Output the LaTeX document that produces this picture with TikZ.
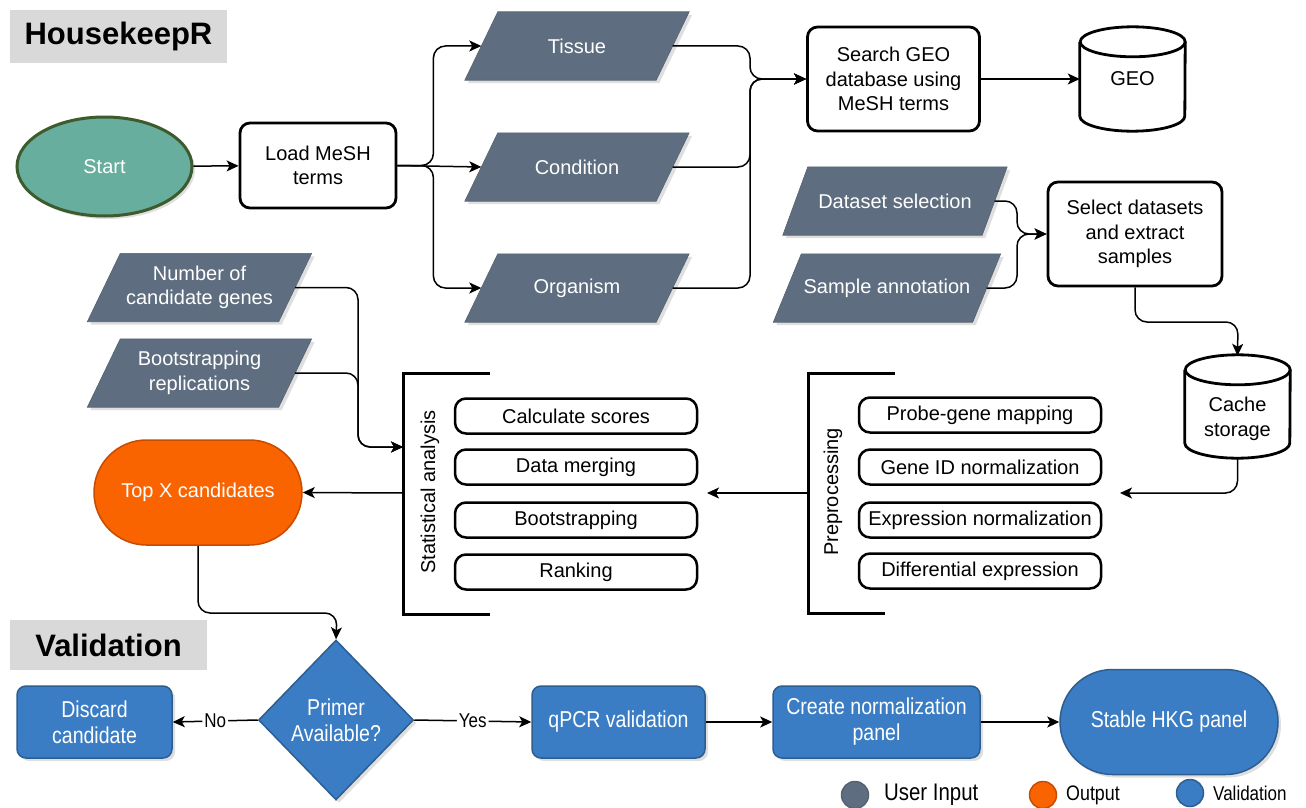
\documentclass[tikz,border=0pt]{standalone}
\usepackage{fontspec}
\setmainfont{Liberation Sans}
\newfontfamily\narrowfont[FakeStretch=0.85]{Liberation Sans}
\usetikzlibrary{shapes.geometric,shapes.misc,arrows.meta,shadows,calc}
\pgfdeclarelayer{background}
\pgfsetlayers{background,main}
\definecolor{slatefill}{HTML}{5E6E80}
\definecolor{slatedraw}{HTML}{55636F}
\definecolor{startfill}{HTML}{67AE9E}
\definecolor{startdraw}{HTML}{3E5B2E}
\definecolor{orfill}{HTML}{FA6400}
\definecolor{ordraw}{HTML}{C84B00}
\definecolor{bluefill}{HTML}{3A7DC4}
\definecolor{bluedraw}{HTML}{2E5E90}
\definecolor{titlegray}{HTML}{D9D9D9}
\newcommand{\mainfs}{\fontsize{20}{24.5}\selectfont}
\newcommand{\valfs}{\narrowfont\fontsize{23}{26}\selectfont}
\tikzset{
  conn/.style={line width=1.5pt, rounded corners=12pt},
  arr/.style={conn, -{Stealth[length=12pt,width=11pt,inset=3pt]}},
  shad/.style={drop shadow={shadow xshift=3pt, shadow yshift=-3pt, fill=black!25}},
  wbox/.style={draw, line width=2.8pt, rounded corners=10pt, fill=white, align=center, font=\mainfs, inner sep=0pt},
  sbox/.style={draw, line width=2.5pt, rounded corners=11pt, minimum width=242pt, minimum height=35pt, font=\mainfs, inner sep=0pt},
  inp/.style={rectangle, text=white, font=\mainfs, align=center,
    minimum width=191pt, minimum height=68pt, inner sep=0pt},
  inpshape/.style={fill=slatefill, draw=slatedraw, line width=0.6pt, shad},
  vbox/.style={draw=bluedraw, fill=bluefill, line width=1.5pt, rounded corners=9pt, text=white, align=center,
    font=\valfs, minimum height=72pt, inner sep=0pt, shad},
  bracket/.style={line width=3pt},
  titlebox/.style={fill=titlegray, font=\bfseries\fontsize{31}{36}\selectfont, inner sep=0pt},
  cyl/.style={line width=2.8pt},
  lgc/.style={circle, minimum size=27pt, inner sep=0pt, line width=1.5pt},
}
\begin{document}
\begin{tikzpicture}[x=1pt,y=-1pt]
\useasboundingbox (0,0) rectangle (1306,808);
% titles
\node[titlebox, minimum width=217pt, minimum height=53pt] (t1) at (118.5,36.5) {HousekeepR};
\node[titlebox, minimum width=197pt, minimum height=50pt] (t2) at (108.5,645) {Validation};
% top row
\node[ellipse, fill=startfill, draw=startdraw, line width=3pt, minimum width=175pt, minimum height=99pt, text=white, font=\mainfs, shad] (start) at (104.5,166.5) {Start};
\node[wbox, minimum width=156pt, minimum height=85pt] (load) at (318,165.5) {Load MeSH\\terms};
\node[inp] (tissue) at (577,46) {Tissue};
\node[inp] (cond) at (577,167) {Condition};
\node[inp] (org) at (577,288) {Organism};
\node[wbox, minimum width=172pt, minimum height=104pt] (search) at (893.5,79) {Search GEO\\database using\\MeSH terms};
\node[minimum width=105pt, minimum height=104pt, inner sep=0pt, font=\mainfs] (geo) at (1132.5,79) {GEO};
\draw[cyl] ([yshift=-15pt]geo.north west) -- ([yshift=15pt]geo.south west)
  arc[start angle=180, end angle=360, x radius=52.5pt, y radius=15pt]
  -- ([yshift=-15pt]geo.north east)
  arc[start angle=0, end angle=180, x radius=52.5pt, y radius=15pt];
\draw[cyl] ([yshift=-15pt]geo.north east) arc[start angle=0, end angle=-180, x radius=52.5pt, y radius=15pt];
% dataset
\node[inp, minimum width=199pt] (dsel) at (895,201) {Dataset selection};
\node[inp, minimum width=199pt] (samp) at (887,288) {Sample annotation};
\node[wbox, minimum width=174pt, minimum height=104pt] (sel) at (1135,234) {Select datasets\\and extract\\samples};
\node[minimum width=105pt, minimum height=103pt, inner sep=0pt] (cache) at (1237.5,406.5) {};
\draw[cyl] ([yshift=-15pt]cache.north west) -- ([yshift=15pt]cache.south west)
  arc[start angle=180, end angle=360, x radius=52.5pt, y radius=15pt]
  -- ([yshift=-15pt]cache.north east)
  arc[start angle=0, end angle=180, x radius=52.5pt, y radius=15pt];
\draw[cyl] ([yshift=-15pt]cache.north east) arc[start angle=0, end angle=-180, x radius=52.5pt, y radius=15pt];
\node[align=center, font=\mainfs, inner sep=0pt] (cachetxt) at (1237.5,419) {Cache\\storage};
% user inputs left
\node[inp] (num) at (199.5,287.5) {Number of\\candidate genes};
\node[inp] (boot) at (199.5,373) {Bootstrapping\\replications};
% parallelogram outlines behind the input nodes
\begin{pgfonlayer}{background}
\foreach \n/\s in {tissue/16.5,cond/16.5,org/16.5,num/16.5,boot/16.5,dsel/12.5,samp/14} {
  \draw[inpshape] ([xshift=\s pt]\n.north west) -- ([xshift=\s pt]\n.north east)
    -- ([xshift=-\s pt]\n.south east) -- ([xshift=-\s pt]\n.south west) -- cycle;
}
\end{pgfonlayer}
\node[rounded rectangle, fill=orfill, draw=ordraw, line width=1.5pt, minimum width=208pt, minimum height=105pt, text=white, font=\mainfs, inner sep=0pt] (topx) at (198,492.5) {Top X candidates};
% statistical analysis
\node[sbox] (cs) at (576,416) {Calculate scores};
\node[sbox] (dm) at (576,467) {Data merging};
\node[sbox] (bs) at (576,520) {Bootstrapping};
\node[sbox] (rk) at (576,572) {Ranking};
\coordinate (sbt) at (490,373);
\coordinate (sb1) at (403,373);
\coordinate (sb2) at (403,614);
\coordinate (sbb) at (490,614);
\draw[bracket] (sbt) -- (sb1) -- (sb2) -- (sbb);
\node[rotate=90, font=\mainfs, inner sep=0pt] (stlab) at (430,492) {Statistical analysis};
% preprocessing
\node[sbox] (pg) at (980,415) {Probe-gene mapping};
\node[sbox] (gid) at (980,467) {Gene ID normalization};
\node[sbox] (en) at (980,520) {Expression normalization};
\node[sbox] (de) at (980,571) {Differential expression};
\coordinate (pbt) at (895,373);
\coordinate (pb1) at (808,373);
\coordinate (pb2) at (808,613);
\coordinate (pbb) at (885,613);
\draw[bracket] (pbt) -- (pb1) -- (pb2) -- (pbb);
\node[rotate=90, font=\mainfs, inner sep=0pt] (pplab) at (833,492) {Preprocessing};
% validation row
\node[diamond, fill=bluefill, draw=bluedraw, line width=1.5pt, minimum width=155pt, minimum height=160pt, aspect=1, text=white, align=center, font=\valfs, inner sep=0pt, shad] (primer) at (336,720) {Primer\\Available?};
\node[vbox, minimum width=155pt] (discard) at (94.5,722) {Discard\\candidate};
\node[vbox, minimum width=173pt] (qpcr) at (618.5,722) {qPCR validation};
\node[vbox, minimum width=207pt] (create) at (876.5,722) {Create normalization\\panel};
\node[rounded rectangle, draw=bluedraw, fill=bluefill, line width=1.5pt, text=white, font=\valfs, minimum width=218pt, minimum height=105pt, inner sep=0pt, shad] (stable) at (1169,722) {Stable HKG panel};
% legend
\node[lgc, fill=slatefill, draw=slatedraw] (lg1) at (855,795) {};
\node[anchor=west, font=\narrowfont\fontsize{24}{28}\selectfont, inner sep=0pt] (lt1) at (884,795) {User Input};
\node[lgc, fill=orfill, draw=ordraw] (lg2) at (1043,795) {};
\node[anchor=west, font=\narrowfont\fontsize{21}{25}\selectfont, inner sep=0pt] (lt2) at (1066,795) {Output};
\node[lgc, fill=bluefill, draw=bluedraw] (lg3) at (1190,793) {};
\node[anchor=west, font=\narrowfont\fontsize{20}{24}\selectfont, inner sep=0pt] (lt3) at (1213,793) {Validation};
% connectors
\draw[arr] (start) -- (load);
\draw[arr] (load.east) -- ++(36,0) |- (tissue.west);
\draw[arr] (load.east) -- (cond.west);
\draw[arr] (load.east) -- ++(36,0) |- (org.west);
\coordinate (mg1) at (750,79);
\draw[arr] (tissue.east) -| (mg1) -- (search.west);
\draw[arr] (cond.east) -| (mg1) -- (search.west);
\draw[arr] (org.east) -| (mg1) -- (search.west);
\draw[arr] (search) -- (geo.west);
\coordinate (mg2) at (1017,234);
\draw[arr] (dsel.east) -| (mg2) -- (sel.west);
\draw[arr] (samp.east) -| (mg2) -- (sel.west);
\draw[arr] (sel.south) |- (1238,322) -- ([yshift=-1pt]cache.north);
\coordinate (cacheend) at (1120,493);
\draw[arr] (cache.south) |- (cacheend);
\coordinate (pbm) at (808,493);
\coordinate (statend) at (707,493);
\draw[arr] (pbm) -- (statend);
\coordinate (sbm) at (403,493);
\draw[arr] (sbm) -- (topx.east);
\coordinate (statin) at (403,447);
\draw[arr] (num.east) -| (358,447) -- (statin);
\draw[arr] (boot.east) -| (358,447) -- (statin);
\draw[arr] (topx.south) |- (337,613) -- (primer.north);
\draw[arr] (primer.west) -- node[fill=white, inner sep=2pt, font=\narrowfont\fontsize{20}{24}\selectfont] (nolab) {No} (discard.east);
\draw[arr] (primer.east) -- node[fill=white, inner sep=2pt, font=\narrowfont\fontsize{20}{24}\selectfont] (yeslab) {Yes} (qpcr.west);
\draw[arr] (qpcr) -- (create);
\draw[arr] (create) -- (stable);
\end{tikzpicture}
\end{document}
